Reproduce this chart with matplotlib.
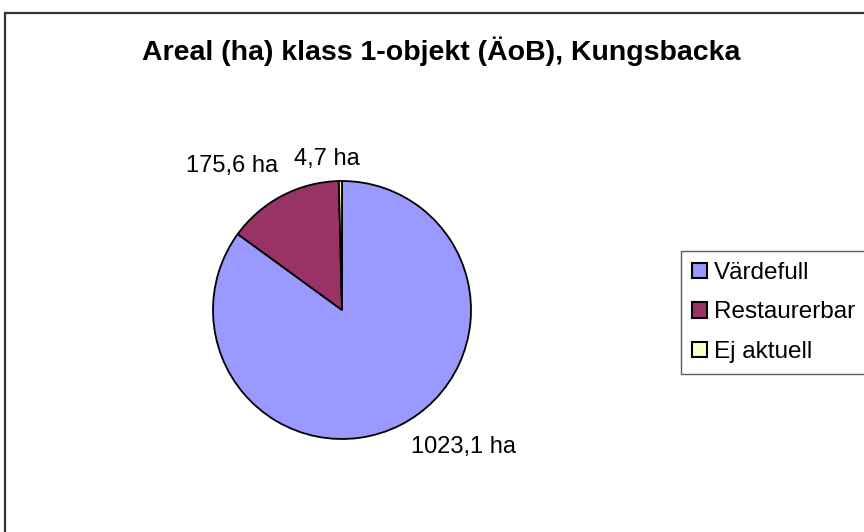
import matplotlib.pyplot as plt
import matplotlib.patches as patches
from matplotlib.patches import Patch

plt.rcParams['font.family'] = ['Liberation Sans', 'DejaVu Sans']

categories = ['Värdefull', 'Restaurerbar', 'Ej aktuell']
areas = [1023.1, 175.6, 4.7]
label_texts = ['1023,1 ha', '175,6 ha', '4,7 ha']
colors = ['#9999FF', '#993366', '#FFFFCC']

W, H = 864, 532
fig = plt.figure(figsize=(W / 100, H / 100), dpi=100)

# outer chart border (cut by right and bottom edge, like the source)
fig.add_artist(patches.Rectangle((5 / W, -0.1), 1.1, 1 - 12.5 / H + 0.1,
                                 transform=fig.transFigure, fill=False,
                                 edgecolor='#333333', linewidth=1.6))

fig.text(441 / W, 1 - 51 / H, 'Areal (ha) klass 1-objekt (ÄoB), Kungsbacka',
         ha='center', va='center', fontsize=20.5, fontweight='bold')

# pie axes: centre (342, 310), radius 129 px
cx, cy, r = 342, 310, 129
ax = fig.add_axes([(cx - r) / W, (H - cy - r) / H, 2 * r / W, 2 * r / H])
wedges, texts = ax.pie(areas, colors=colors, startangle=90, counterclock=False,
                       labels=label_texts, labeldistance=1.3,
                       wedgeprops=dict(edgecolor='black', linewidth=1.3))
ax.set_xlim(-1, 1)
ax.set_ylim(-1, 1)
ax.axis('off')

label_pos = [(0.938, -1.062), (-0.853, 1.116), (-0.116, 1.171)]
for t, (x, y) in zip(texts, label_pos):
    t.set_position((x, y))
    t.set_ha('center')
    t.set_va('center')
    t.set_fontsize(17)

handles = [Patch(facecolor=c, edgecolor='black', linewidth=1.5) for c in colors]
leg = fig.legend(handles, categories, loc='upper left',
                 bbox_to_anchor=(681 / W, 1 - 251 / H), fontsize=17.5,
                 frameon=True, fancybox=False, handlelength=0.6, handleheight=0.6,
                 handletextpad=0.3, labelspacing=0.72, borderpad=0.45,
                 borderaxespad=0)
leg.get_frame().set_edgecolor('#333333')
leg.get_frame().set_linewidth(1.0)

fig.savefig('out.png', dpi=100)
